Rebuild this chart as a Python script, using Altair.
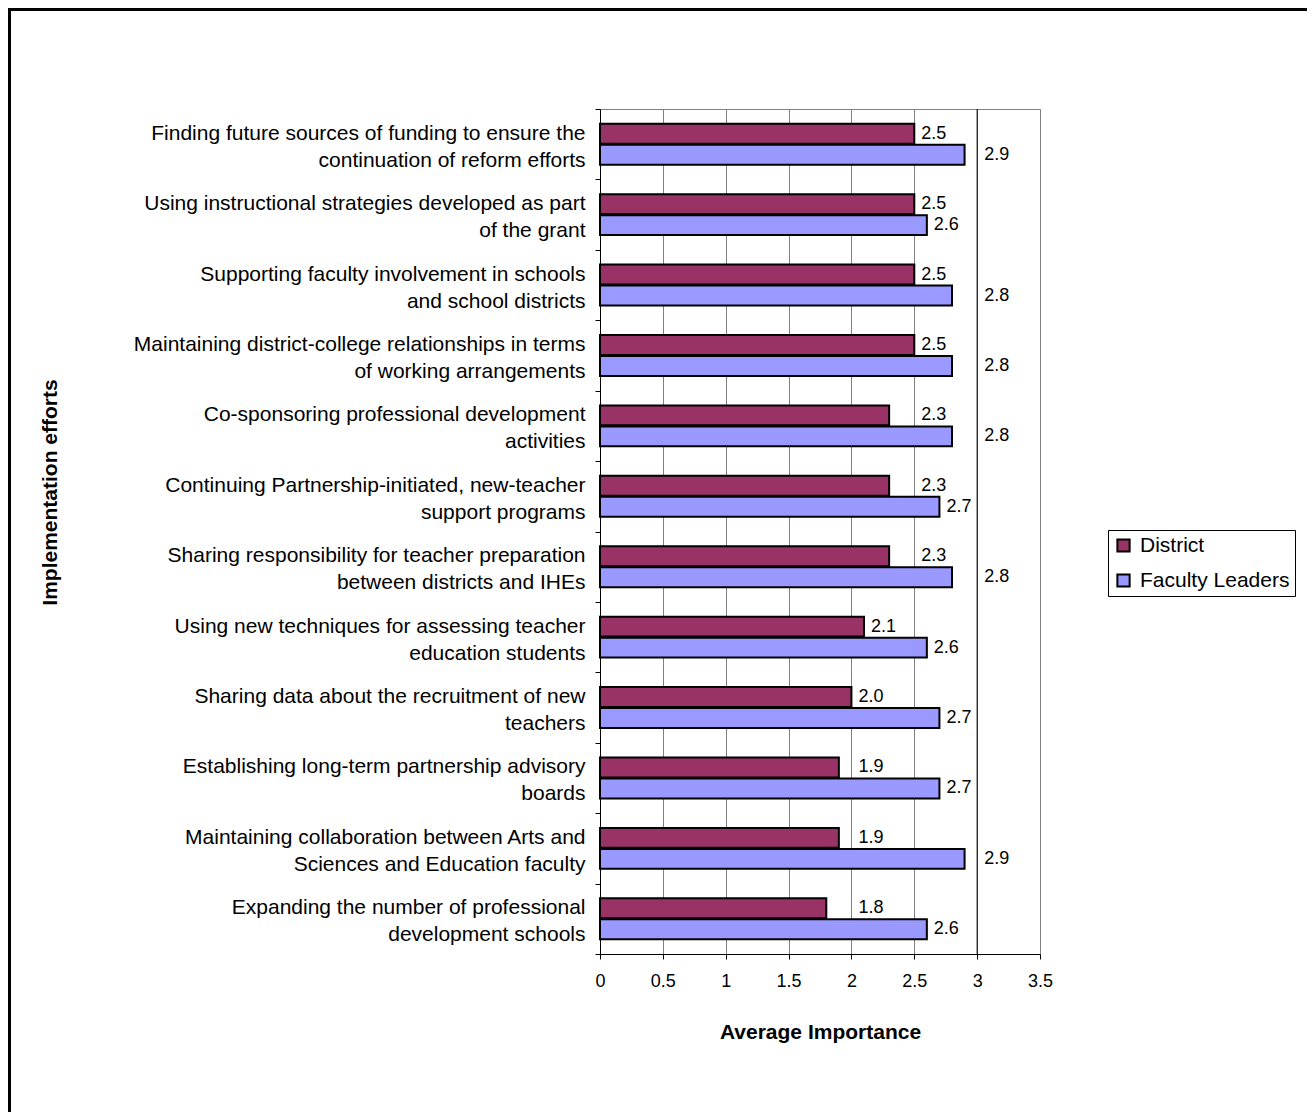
import altair as alt
import pandas as pd

categories = [
    "Finding future sources of funding to ensure the|continuation of reform efforts",
    "Using instructional strategies developed as part|of the grant",
    "Supporting faculty involvement in schools|and school districts",
    "Maintaining district-college relationships in terms|of working arrangements",
    "Co-sponsoring professional development|activities",
    "Continuing Partnership-initiated, new-teacher|support programs",
    "Sharing responsibility for teacher preparation|between districts and IHEs",
    "Using new techniques for assessing teacher|education students",
    "Sharing data about the recruitment of new|teachers",
    "Establishing long-term partnership advisory|boards",
    "Maintaining collaboration between Arts and|Sciences and Education faculty",
    "Expanding the number of professional|development schools",
]
district = [2.5, 2.5, 2.5, 2.5, 2.3, 2.3, 2.3, 2.1, 2.0, 1.9, 1.9, 1.8]
faculty = [2.9, 2.6, 2.8, 2.8, 2.8, 2.7, 2.8, 2.6, 2.7, 2.7, 2.9, 2.6]
series = ["District", "Faculty Leaders"]
colors = ["#993366", "#9999FF"]
x_ticks = [0, 0.5, 1, 1.5, 2, 2.5, 3, 3.5]
ref_line = [3.0]

rows = []
for c, d, f in zip(categories, district, faculty):
    rows.append({"category": c, "series": series[0], "value": d})
    rows.append({"category": c, "series": series[1], "value": f})
df = pd.DataFrame(rows)

FONT = "Liberation Sans"

y_enc = alt.Y(
    "category:N",
    sort=categories,
    scale=alt.Scale(paddingInner=0, paddingOuter=0),
    axis=alt.Axis(
        title="Implementation efforts",
        labelExpr="split(datum.label, '|')",
        tickBand="extent",
        grid=False,
        domainColor="black",
        tickColor="black",
        tickSize=5,
        labelPadding=10,
        labelOffset=-11,
        labelFontSize=21,
        labelLineHeight=27,
        labelLimit=700,
        labelColor="black",
        labelFont=FONT,
        titleFont=FONT,
        titleFontSize=21,
        titleFontWeight="bold",
        titleColor="black",
        titleX=-550,
        titleY=383,
        titleAngle=-90,
        titleAlign="center",
        titleBaseline="middle",
    ),
)
x_enc = alt.X(
    "value:Q",
    scale=alt.Scale(domain=[0, 3.5], nice=False, zero=True),
    axis=alt.Axis(
        title="Average Importance",
        values=x_ticks,
        format="~g",
        grid=True,
        gridColor="#808080",
        gridWidth=1,
        domainColor="black",
        tickColor="black",
        tickSize=5,
        labelPadding=13,
        labelFlush=False,
        labelFontSize=18,
        labelColor="black",
        labelFont=FONT,
        titleFont=FONT,
        titleFontSize=21,
        titleFontWeight="bold",
        titleColor="black",
        titleY=78,
        titleBaseline="middle",
    ),
)
yoff = alt.YOffset(
    "series:N", sort=series, scale=alt.Scale(paddingInner=0.05, paddingOuter=0.7)
)

base = alt.Chart(df)

bars = base.mark_bar(stroke="black", strokeWidth=2).encode(
    x=x_enc,
    y=y_enc,
    yOffset=yoff,
    color=alt.Color(
        "series:N",
        sort=series,
        scale=alt.Scale(domain=series, range=colors),
        legend=alt.Legend(
            title=None,
            orient="none",
            legendX=508,
            legendY=421,
            strokeColor="black",
            fillColor="white",
            padding=5,
            symbolType="square",
            symbolSize=150,
            symbolStrokeColor="black",
            symbolStrokeWidth=2,
            labelFontSize=21,
            labelFont=FONT,
            labelColor="black",
            labelOffset=6,
            rowPadding=13,
            cornerRadius=0,
        ),
    ),
)

# labels that would run across a nearby grid line are moved just past it
labels = base.transform_calculate(
    g="ceil(datum.value * 2 - 1e-9) / 2",
).transform_calculate(
    lx="(datum.g - datum.value > 0.05 && datum.g - datum.value < 0.25) ? datum.g : datum.value"
).mark_text(
    align="left", dx=7, fontSize=18, font=FONT, color="black"
).encode(
    x="lx:Q",
    y=alt.Y("category:N", sort=categories),
    yOffset=alt.YOffset("series:N", sort=series),
    text=alt.Text("value:Q", format=".1f"),
)

rule3 = alt.Chart(pd.DataFrame({"v": ref_line})).mark_rule(
    color="black", strokeWidth=1
).encode(x="v:Q")

frame_top = alt.Chart(pd.DataFrame({"a": [0]})).mark_rule(
    color="black", strokeWidth=3
).encode(x=alt.value(-592), x2=alt.value(720), y=alt.value(-99.5))
frame_left = alt.Chart(pd.DataFrame({"a": [0]})).mark_rule(
    color="black", strokeWidth=3
).encode(x=alt.value(-590.5), y=alt.value(-101), y2=alt.value(1010))

chart = (
    alt.layer(frame_top, frame_left, bars, rule3, labels)
    .properties(
        width=440,
        height=845,
        padding={"left": 592, "top": 101, "right": 267, "bottom": 158},
        autosize=alt.AutoSizeParams(type="none"),
    )
    .configure(font=FONT)
    .configure_view(stroke="#808080", strokeWidth=1)
)

chart.save("out.html", embed_options={"renderer": "svg", "actions": False})
